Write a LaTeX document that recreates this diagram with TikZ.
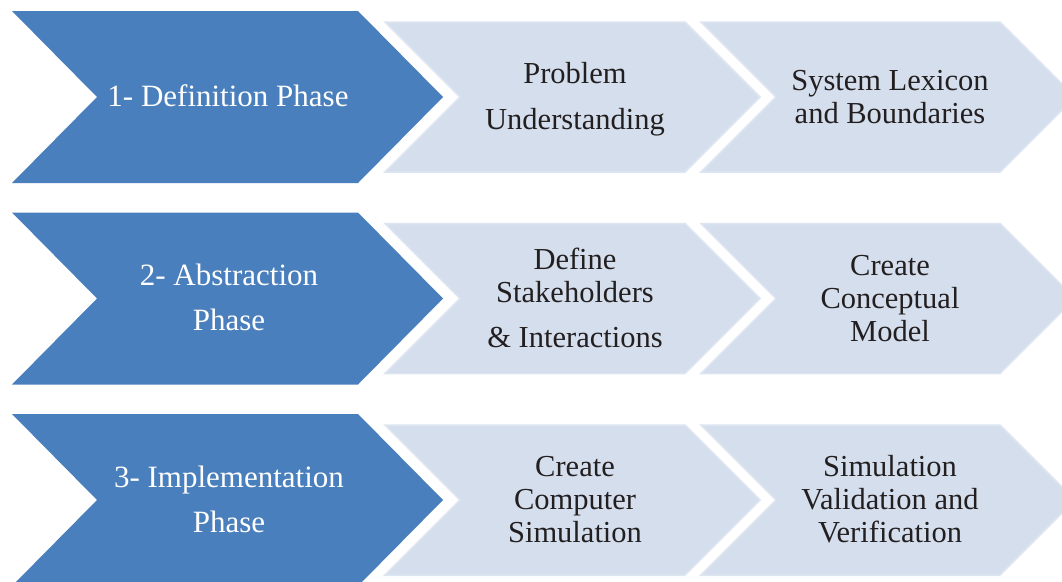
\documentclass[tikz,border=0pt]{standalone}
\usepackage{fontspec}
\setmainfont{Liberation Serif}
\definecolor{darkblue}{HTML}{4A7FBD}
\definecolor{lightblue}{HTML}{D4DEEC}
\definecolor{lightedge}{HTML}{DDE5F1}
\definecolor{textdark}{HTML}{231F20}
\newcommand\chevron[6]{% style, left x, centre y, width, half height, depth
  \path[#1] (#2,#3-#5) -- ++(#4,0) -- ++(#6,#5) -- ++(-#6,#5) -- ++(-#4,0) -- ++(#6,-#5) -- cycle;}
\newcommand\lines[1]{\parbox[t]{300pt}{\centering #1}}
\tikzset{
  darkchev/.style={fill=darkblue},
  lightchev/.style={fill=lightblue, draw=lightedge, line width=1.5pt, line join=miter},
  dtext/.style={anchor=base, inner sep=0pt, text=white, font=\fontsize{31}{33}\selectfont},
  ltext/.style={anchor=base, inner sep=0pt, text=textdark, font=\fontsize{30.5}{33}\selectfont},
}
\begin{document}
\begin{tikzpicture}[x=1pt, y=-1pt]
\useasboundingbox (0,0) rectangle (1062,581);
\clip (0,0) rectangle (1062,581);
\fill[white] (0,0) rectangle (1062,581);
% row 1
\chevron{darkchev}{12}{97}{346}{86}{85}
\chevron{lightchev}{385}{97}{300}{75}{75}
\chevron{lightchev}{701}{97}{299}{75}{75}
% row 2
\chevron{darkchev}{12}{298.5}{346}{86}{85}
\chevron{lightchev}{385}{298.5}{300}{75}{75}
\chevron{lightchev}{701}{298.5}{299}{75}{75}
% row 3
\chevron{darkchev}{12}{500}{346}{86}{85}
\chevron{lightchev}{385}{500}{300}{75}{75}
\chevron{lightchev}{701}{500}{299}{75}{75}
% texts
\node[dtext] (d1) at (228,106.7) {\lines{1- Definition Phase}};
\node[ltext] (l1a) at (575,83.3) {\lines{Problem\\[13.4pt]Understanding}};
\node[ltext] (l1b) at (890,90) {\lines{System Lexicon\\and Boundaries}};
\node[dtext] (d2) at (229,285.7) {\lines{2- Abstraction\\[12pt]Phase}};
\node[ltext] (l2a) at (575,269.3) {\lines{Define\\Stakeholders\\[12.6pt]\& Interactions}};
\node[ltext] (l2b) at (890,275) {\lines{Create\\Conceptual\\Model}};
\node[dtext] (d3) at (229,487.3) {\lines{3- Implementation\\[12pt]Phase}};
\node[ltext] (l3a) at (575,476) {\lines{Create\\Computer\\Simulation}};
\node[ltext] (l3b) at (890,476.7) {\lines{Simulation\\Validation and\\Verification}};
\end{tikzpicture}
\end{document}
